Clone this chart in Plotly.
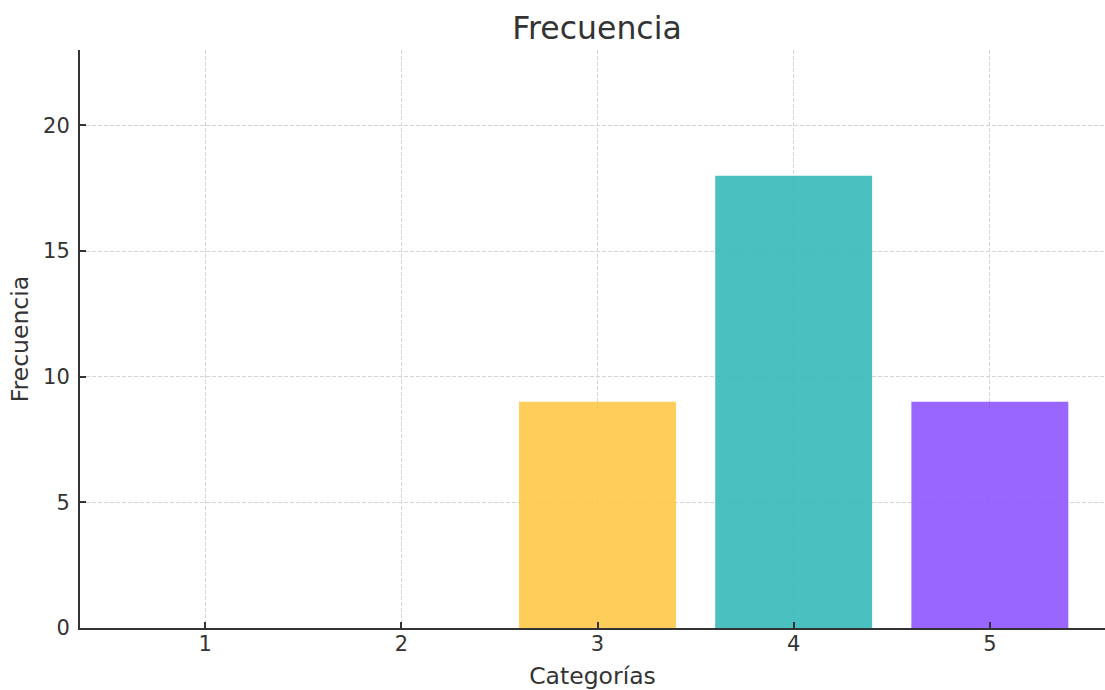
import plotly.graph_objects as go

# Data
categorias = [1, 2, 3, 4, 5]
frecuencia = [0, 0, 9, 18, 9]
colores = [
    "rgba(255,99,132,0.9)",
    "rgba(54,162,235,0.9)",
    "rgba(255,200,72,0.9)",
    "rgba(55,185,185,0.9)",
    "rgba(142,85,255,0.9)",
]

fig = go.Figure(
    go.Bar(
        x=categorias,
        y=frecuencia,
        marker=dict(color=colores, line=dict(width=0)),
        width=0.8,
    )
)

tick_font = dict(family="DejaVu Sans", size=21, color="#333333")
label_font = dict(family="DejaVu Sans", size=23.5, color="#333333")

fig.update_layout(
    width=1105,
    height=690,
    margin=dict(l=80, r=0, t=50, b=62),
    paper_bgcolor="white",
    plot_bgcolor="white",
    showlegend=False,
    font=dict(family="DejaVu Sans", color="#333333"),
    title=dict(
        text="Frecuencia",
        x=597 / 1105,
        xanchor="center",
        y=1 - 28 / 690,
        yanchor="middle",
        font=dict(family="DejaVu Sans", size=31.5, color="#333333"),
    ),
    bargap=0.2,
)

common = dict(
    tickfont=tick_font,
    ticks="inside",
    ticklen=6,
    tickwidth=1.5,
    tickcolor="#333333",
    showline=True,
    linecolor="#333333",
    linewidth=2,
    showgrid=True,
    gridcolor="#d4d4d4",
    griddash="4px,2px",
    gridwidth=1,
    zeroline=False,
)

fig.update_xaxes(
    range=[0.362, 5.587],
    tickvals=categorias,
    ticktext=[str(c) for c in categorias],
    ticklabelstandoff=-4,
    title=dict(text="Categorías", font=label_font, standoff=12),
    **common,
)

fig.update_yaxes(
    range=[0, 23],
    tickvals=[0, 5, 10, 15, 20],
    ticklabelstandoff=4,
    title=dict(text="Frecuencia", font=label_font, standoff=8),
    **common,
)

fig.write_html("out.html")
